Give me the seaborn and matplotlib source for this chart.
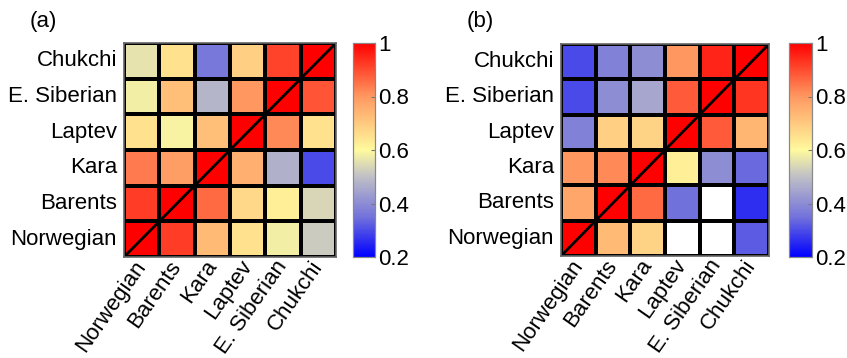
import numpy as np
import pandas as pd
import matplotlib
matplotlib.use('Agg')
import matplotlib.pyplot as plt
from matplotlib.colors import LinearSegmentedColormap
import seaborn as sns

seas = ['Norwegian', 'Barents', 'Kara', 'Laptev', 'E. Siberian', 'Chukchi']
rows = seas[::-1]  # top to bottom

# panel (a), rows Chukchi..Norwegian, columns Norwegian..Chukchi
vals_a = [
    [0.56, 0.65, 0.36, 0.69, 0.91, 1.00],
    [0.58, 0.72, 0.48, 0.80, 1.00, 0.89],
    [0.65, 0.59, 0.72, 1.00, 0.82, 0.65],
    [0.84, 0.79, 1.00, 0.75, 0.47, 0.30],
    [0.92, 1.00, 0.86, 0.67, 0.62, 0.54],
    [1.00, 0.92, 0.73, 0.65, 0.58, 0.52],
]
# panel (b), white cells are missing
vals_b = [
    [0.30, 0.38, 0.40, 0.80, 0.95, 1.00],
    [0.30, 0.40, 0.45, 0.88, 1.00, 0.93],
    [0.38, 0.69, 0.68, 1.00, 0.88, 0.74],
    [0.80, 0.82, 1.00, 0.62, 0.40, 0.34],
    [0.77, 1.00, 0.86, 0.35, np.nan, 0.26],
    [1.00, 0.73, 0.68, np.nan, np.nan, 0.32],
]

vmin, vmax = 0.2, 1.0
anchors = [0.2, 0.35, 0.5, 0.6, 0.8, 1.0]
anchor_cols = [(0, 0, 1), (0.45, 0.45, 0.86), (0.75, 0.75, 0.78),
               (1, 0.98, 0.62), (1, 0.6, 0.38), (1, 0, 0)]
cmap = LinearSegmentedColormap.from_list(
    'bgyr', [((a - vmin) / (vmax - vmin), c) for a, c in zip(anchors, anchor_cols)])

plt.rcParams['font.family'] = ['Liberation Sans', 'DejaVu Sans']
fs = 16

fig = plt.figure(figsize=(8.47, 3.58), dpi=100)
panels = [
    ('(a)', vals_a, [124 / 847, 1 - 257 / 358, 212 / 847, 214 / 358],
     [353 / 847, 1 - 257 / 358, 22 / 847, 214 / 358], 30),
    ('(b)', vals_b, [561 / 847, 1 - 256 / 358, 208 / 847, 212 / 358],
     [789 / 847, 1 - 257 / 358, 23 / 847, 214 / 358], 467),
]

for tag, vals, pos, cpos, tx in panels:
    df = pd.DataFrame(vals, index=rows, columns=seas)
    ax = fig.add_axes(pos)
    cax = fig.add_axes(cpos)
    sns.heatmap(df, ax=ax, cbar_ax=cax, cmap=cmap, vmin=vmin, vmax=vmax,
                linewidths=1.5, linecolor='black', square=False)
    n = len(seas)
    ax.plot([0, n], [n, 0], color='black', lw=2)
    for s in ax.spines.values():
        s.set_visible(True)
        s.set_color('#666666')
        s.set_linewidth(1.2)
    ax.tick_params(axis='y', length=0, labelsize=fs, pad=5)
    ax.tick_params(axis='x', length=0, labelsize=fs, pad=4)
    ax.set_yticklabels(rows, rotation=0)
    ax.set_xticklabels(seas, rotation=55, ha='right', va='center',
                       rotation_mode='anchor')
    ax.set_xlabel('')
    ax.set_ylabel('')

    cax.set_yticks([0.2, 0.4, 0.6, 0.8, 1.0])
    cax.set_yticklabels(['0.2', '0.4', '0.6', '0.8', '1'])
    cax.tick_params(labelsize=fs, length=3, direction='in', color='#777777', pad=2)
    for s in cax.spines.values():
        s.set_visible(True)
        s.set_color('#888888')
        s.set_linewidth(0.8)

    fig.text(tx / 847, 1 - 21 / 358, tag, fontsize=fs, va='center', ha='left')

fig.savefig('out.png', dpi=100)
